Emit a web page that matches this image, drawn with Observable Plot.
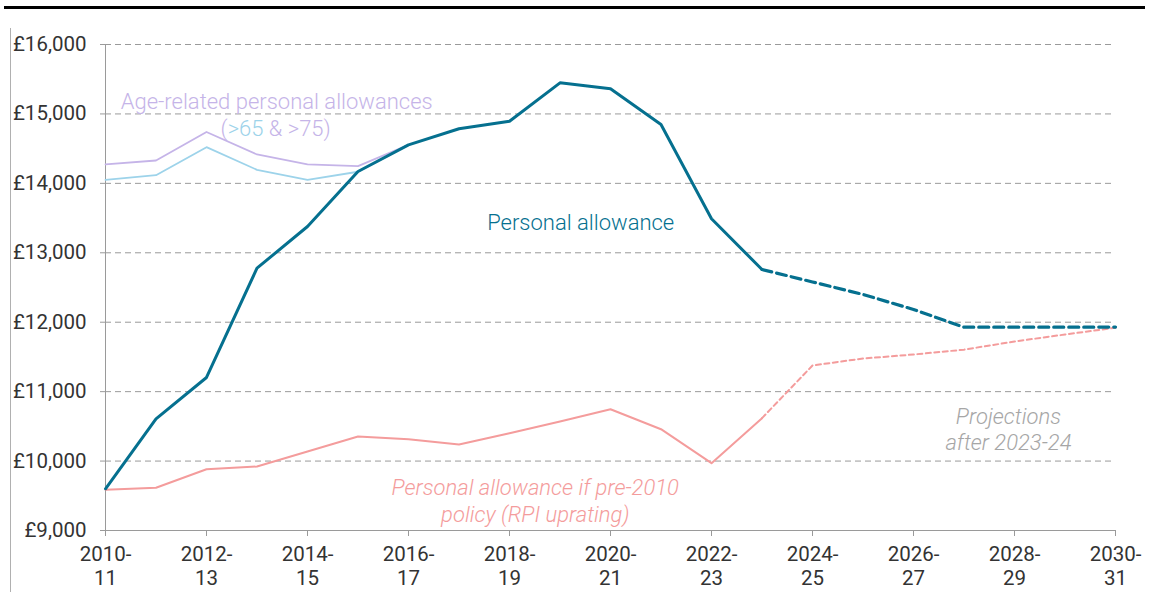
<!DOCTYPE html>
<html><head><meta charset="utf-8">
<script src="https://cdn.jsdelivr.net/npm/d3@7"></script>
<script src="https://cdn.jsdelivr.net/npm/@observablehq/plot@0.6"></script>
<style>
body{margin:0;background:#fff;font-family:Roboto, sans-serif;}
#wrap{position:relative;width:1158px;height:592px;overflow:hidden}
#topline{position:absolute;left:4px;top:6px;width:1141px;height:3px;background:#000}
#leftline{position:absolute;left:10px;top:28px;width:1px;height:570px;background:#b0b0b0}
#chart{position:absolute;left:0;top:0}
</style></head><body>
<div id="wrap"><div id="chart"></div><div id="topline"></div><div id="leftline"></div></div>
<script>
// ---- data (real-terms £) ----
const years = [2010,2011,2012,2013,2014,2015,2016,2017,2018,2019,2020,2021,2022,2023,2024,2025,2026,2027,2028,2029,2030];
const personalAllowance = [9601,10609,11204,12778,13379,14171,14555,14786,14895,15448,15362,14848,13490,12759,12580,12400,12183,11928,11928,11928,11930];
const rpiAllowance = [9587,9615,9883,9922,10138,10354,10316,10239,10401,10570,10747,10459,9970,10618,11377,11477,11535,11605,11722,11823,11920];
const ageYears = [2010,2011,2012,2013,2014,2015,2016];
const ageOver75 = [14272,14329,14740,14416,14272,14248,14555];
const ageOver65 = [14051,14118,14521,14195,14051,14167,14555];
const projectionStart = 2023;
const yTicks = [9000,10000,11000,12000,13000,14000,15000,16000];
const xTicks = [2010,2012,2014,2016,2018,2020,2022,2024,2026,2028,2030];

const teal = "#05708f", pink = "#f49c9c", purple = "#c5b4e8", lightBlue = "#9dd3ea", grey = "#a6a6a6";

const annotations = [
  {x: 2013.39, y: 15190, text: "Age-related personal allowances", color: purple},
  {x: 2013.37, y: 14805, text: "(>65 & >75)", color: purple},
  {x: 2019.41, y: 13451, text: "Personal allowance", color: teal},
  {x: 2018.51, y: 9439, text: "Personal allowance if pre-2010\npolicy (RPI uprating)", color: pink},
  {x: 2027.88, y: 10469, text: "Projections\nafter 2023-24", color: grey}
];

const pa = years.map((y, i) => ({year: y, value: personalAllowance[i]}));
const rpi = years.map((y, i) => ({year: y, value: rpiAllowance[i]}));
const a75 = ageYears.map((y, i) => ({year: y, value: ageOver75[i]}));
const a65 = ageYears.map((y, i) => ({year: y, value: ageOver65[i]}));
const actual = d => d.year <= projectionStart;
const proj = d => d.year >= projectionStart;

const chart = Plot.plot({
  width: 1158,
  height: 592,
  marginTop: 44,
  marginBottom: 62,
  marginLeft: 105,
  marginRight: 43,
  style: {fontFamily: "Roboto, sans-serif", background: "transparent"},
  x: {domain: [2010, 2030]},
  y: {domain: [9000, 16000]},
  marks: [
    Plot.gridY(yTicks, {stroke: "#9a9a9a", strokeOpacity: 1, strokeDasharray: "6,4"}),
    Plot.ruleX([2010], {stroke: "#9a9a9a"}),
    Plot.ruleY([9000], {stroke: "#9a9a9a"}),
    Plot.axisY({ticks: yTicks, tickFormat: d => "£" + d3.format(",")(d), tickSize: 5, tickPadding: 14,
      stroke: "#9a9a9a", fill: "#333", fontSize: 20.5, label: null}),
    Plot.axisX({ticks: xTicks, tickFormat: d => `${d}-\n${String((d + 1) % 100).padStart(2, "0")}`,
      tickSize: 6, tickPadding: 7, stroke: "#9a9a9a", fill: "#333", fontSize: 20.5, lineHeight: 1.17, label: null}),
    Plot.line(a75, {x: "year", y: "value", stroke: purple, strokeWidth: 1.8}),
    Plot.line(a65, {x: "year", y: "value", stroke: lightBlue, strokeWidth: 1.8}),
    Plot.line(rpi.filter(actual), {x: "year", y: "value", stroke: pink, strokeWidth: 2}),
    Plot.line(rpi.filter(proj), {x: "year", y: "value", stroke: pink, strokeWidth: 2, strokeDasharray: "5,3.5"}),
    Plot.line(pa.filter(actual), {x: "year", y: "value", stroke: teal, strokeWidth: 3}),
    Plot.line(pa.filter(proj), {x: "year", y: "value", stroke: teal, strokeWidth: 3.2, strokeDasharray: "10,5"}),
    Plot.text(annotations, {x: "x", y: "y", text: "text", fill: d => d.color, fontSize: 22,
      lineHeight: 1.2, textAnchor: "middle"})
  ]
});

// italic annotations & two-colour "(>65 & >75)"
d3.select(chart).selectAll("text").each(function() {
  const t = this.textContent;
  if (t.startsWith("Personal allowance if") || t.startsWith("Projections")) {
    d3.select(this).attr("font-style", "italic");
  }
  if (t === "(>65 & >75)") {
    const el = d3.select(this);
    el.text(null);
    el.append("tspan").attr("fill", purple).text("(");
    el.append("tspan").attr("fill", lightBlue).text(">65");
    el.append("tspan").attr("fill", purple).text(" & >75)");
  }
});
d3.select(chart).selectAll("text").filter(function(){return this.closest("[aria-label='text']")}).attr("font-weight", 300);

document.getElementById("chart").append(chart);
</script>
</body></html>
